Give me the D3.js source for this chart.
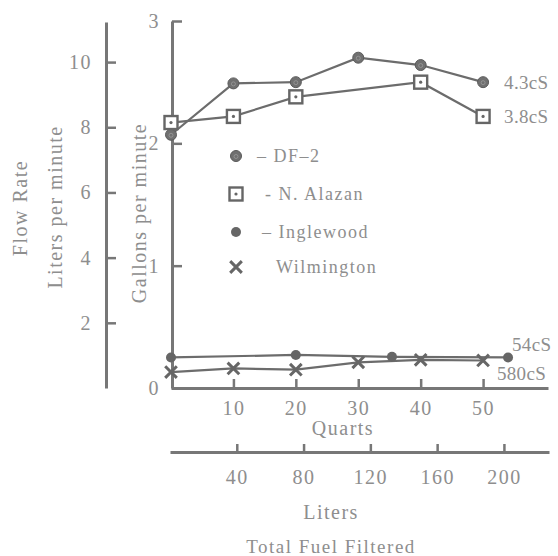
<!DOCTYPE html>
<html>
<head>
<meta charset="utf-8">
<script src="https://cdn.jsdelivr.net/npm/d3@7"></script>
<style>
  html, body { margin: 0; padding: 0; background: #fff; }
  svg { display: block; }
  text { font-family: "Liberation Serif", "Times New Roman", serif; fill: #8e8e8e; letter-spacing: 1.5px; }
</style>
</head>
<body>
<svg id="chart" width="558" height="556"></svg>
<script>
// Flow rate (gallons per minute) against total fuel filtered (quarts)
const df2Quarts      = [0, 10, 20, 30, 40, 50];
const df2Gpm         = [2.07, 2.49, 2.50, 2.70, 2.64, 2.50];
const alazanQuarts   = [0, 10, 20, 40, 50];
const alazanGpm      = [2.17, 2.22, 2.38, 2.50, 2.22];
const inglewoodQuarts = [0, 20, 35.4, 54];
const inglewoodGpm    = [0.25, 0.27, 0.255, 0.25];
const wilmingtonQuarts = [0, 10, 20, 30, 40, 50];
const wilmingtonGpm    = [0.13, 0.16, 0.15, 0.21, 0.23, 0.225];

const gallonTicks = [0, 1, 2, 3];
const literRateTicks = [2, 4, 6, 8, 10];
const quartTicks = [10, 20, 30, 40, 50];
const literTicks = [40, 80, 120, 160, 200];

const endLabels = [
  { text: "4.3cS", series: "df2" },
  { text: "3.8cS", series: "alazan" },
  { text: "54cS", series: "inglewood" },
  { text: "580cS", series: "wilmington" }
];
const legendNames = ["– DF–2", "- N. Alazan", "– Inglewood", "Wilmington"];

const LINE = "#6c6c6c";
const AXIS = "#777";

const svg = d3.select("#chart");

// Scales
const yGal = d3.scaleLinear().domain([0, 3]).range([388, 21]);
const yLit = d3.scaleLinear().domain([0, 11.23]).range([388, 22]);
const xQ   = d3.scaleLinear().domain([0, 60.4]).range([171, 548]);
const xL   = d3.scaleLinear().domain([0, 227]).range([170, 549]);

function styleAxis(g) {
  g.select(".domain").attr("stroke", AXIS).attr("stroke-width", 3);
  g.selectAll(".tick line").attr("stroke", AXIS).attr("stroke-width", 2.5);
  g.selectAll(".tick text").style("font-size", "20px").attr("fill", "#8e8e8e");
}

// Gallons per minute axis (ticks point inward, labels on the left)
const gAxis = svg.append("g").attr("transform", "translate(172,0)")
  .call(d3.axisRight(yGal).tickValues(gallonTicks).tickSize(10).tickSizeOuter(0).tickFormat(d3.format("d")));
styleAxis(gAxis);
gAxis.selectAll(".tick text").attr("x", -12).attr("text-anchor", "end").attr("dy", "0.32em");
gAxis.selectAll(".tick").filter(d => d === 0).select("line").remove();

// Liters per minute axis
const lAxis = svg.append("g").attr("transform", "translate(106,0)")
  .call(d3.axisRight(yLit).tickValues(literRateTicks).tickSize(10).tickSizeOuter(0).tickFormat(d3.format("d")));
styleAxis(lAxis);
lAxis.selectAll(".tick text").attr("x", -14).attr("text-anchor", "end").attr("dy", "0.32em");

// Quarts axis
const qAxis = svg.append("g").attr("transform", "translate(0,388)")
  .call(d3.axisTop(xQ).tickValues(quartTicks).tickSize(9).tickSizeOuter(0).tickFormat(d3.format("d")));
styleAxis(qAxis);
qAxis.selectAll(".tick text").attr("y", 27).attr("dy", 0);

// Liters axis
const litAxis = svg.append("g").attr("transform", "translate(0,452)")
  .call(d3.axisTop(xL).tickValues(literTicks).tickSize(8).tickSizeOuter(0).tickFormat(d3.format("d")));
styleAxis(litAxis);
litAxis.selectAll(".tick text").attr("y", 32).attr("dy", 0);

// Axis titles
svg.append("text").attr("transform", "translate(27,208) rotate(-90)").attr("text-anchor", "middle").style("font-size", "20px").text("Flow Rate");
svg.append("text").attr("transform", "translate(62,207) rotate(-90)").attr("text-anchor", "middle").style("font-size", "20px").text("Liters per minute");
svg.append("text").attr("transform", "translate(146,213) rotate(-90)").attr("text-anchor", "middle").style("font-size", "20px").text("Gallons per minute");
svg.append("text").attr("x", 343).attr("y", 435).attr("text-anchor", "middle").style("font-size", "20px").text("Quarts");
svg.append("text").attr("x", 331).attr("y", 519).attr("text-anchor", "middle").style("font-size", "20px").text("Liters");
svg.append("text").attr("x", 331).attr("y", 553).attr("text-anchor", "middle").style("font-size", "19px").text("Total Fuel Filtered");

// Series
const series = {
  df2:        d3.zip(df2Quarts, df2Gpm),
  alazan:     d3.zip(alazanQuarts, alazanGpm),
  inglewood:  d3.zip(inglewoodQuarts, inglewoodGpm),
  wilmington: d3.zip(wilmingtonQuarts, wilmingtonGpm)
};
const line = d3.line().x(d => xQ(d[0])).y(d => yGal(d[1]));

Object.keys(series).forEach(k => {
  svg.append("path").datum(series[k])
    .attr("fill", "none").attr("stroke", LINE).attr("stroke-width", 2.2)
    .attr("d", line);
});

// Marker drawers
function circleDot(g, x, y) {
  g.append("circle").attr("cx", x).attr("cy", y).attr("r", 5.5).attr("fill", "#707070").attr("stroke", "#5a5a5a").attr("stroke-width", 1);
  g.append("circle").attr("cx", x).attr("cy", y + 0.5).attr("r", 2).attr("fill", "none").attr("stroke", "#9a9a9a").attr("stroke-width", 0.8);
}
function squareDot(g, x, y) {
  g.append("rect").attr("x", x - 6.5).attr("y", y - 6.5).attr("width", 13).attr("height", 13)
    .attr("fill", "#fff").attr("stroke", "#666").attr("stroke-width", 2.4);
  g.append("circle").attr("cx", x).attr("cy", y).attr("r", 1.6).attr("fill", "#666");
}
function dot(g, x, y) {
  g.append("circle").attr("cx", x).attr("cy", y).attr("r", 5).attr("fill", "#666");
}
function cross(g, x, y) {
  g.append("path").attr("transform", `translate(${x},${y})`)
    .attr("d", d3.symbol(d3.symbolX, 90)())
    .attr("fill", "none").attr("stroke", "#666").attr("stroke-width", 3);
}
const drawers = { df2: circleDot, alazan: squareDot, inglewood: dot, wilmington: cross };

const marks = svg.append("g");
Object.keys(series).forEach(k => {
  series[k].forEach(d => drawers[k](marks, xQ(d[0]), yGal(d[1])));
});

// End labels beside the last point of each series
endLabels.forEach(l => {
  const pts = series[l.series];
  const last = pts[pts.length - 1];
  const lx = l.series === "wilmington" ? 497 : xQ(last[0]) + (l.series === "inglewood" ? 4 : 21);
  const ly = l.series === "inglewood" ? yGal(last[1]) - 6
           : l.series === "wilmington" ? yGal(last[1]) + 20
           : yGal(last[1]) + 7;
  svg.append("text").attr("x", lx).attr("y", ly).style("font-size", "19px").style("letter-spacing", "0.3px").text(l.text);
});

// Legend
const legendY = [156, 194, 232, 267];
const legendTextX = [257, 265, 262, 276];
const legendDrawers = [circleDot, squareDot, dot, cross];
legendNames.forEach((name, i) => {
  legendDrawers[i](marks, 236, legendY[i]);
  svg.append("text").attr("x", legendTextX[i]).attr("y", legendY[i] + 6)
    .style("font-size", "18px").text(name);
});
</script>
</body>
</html>
